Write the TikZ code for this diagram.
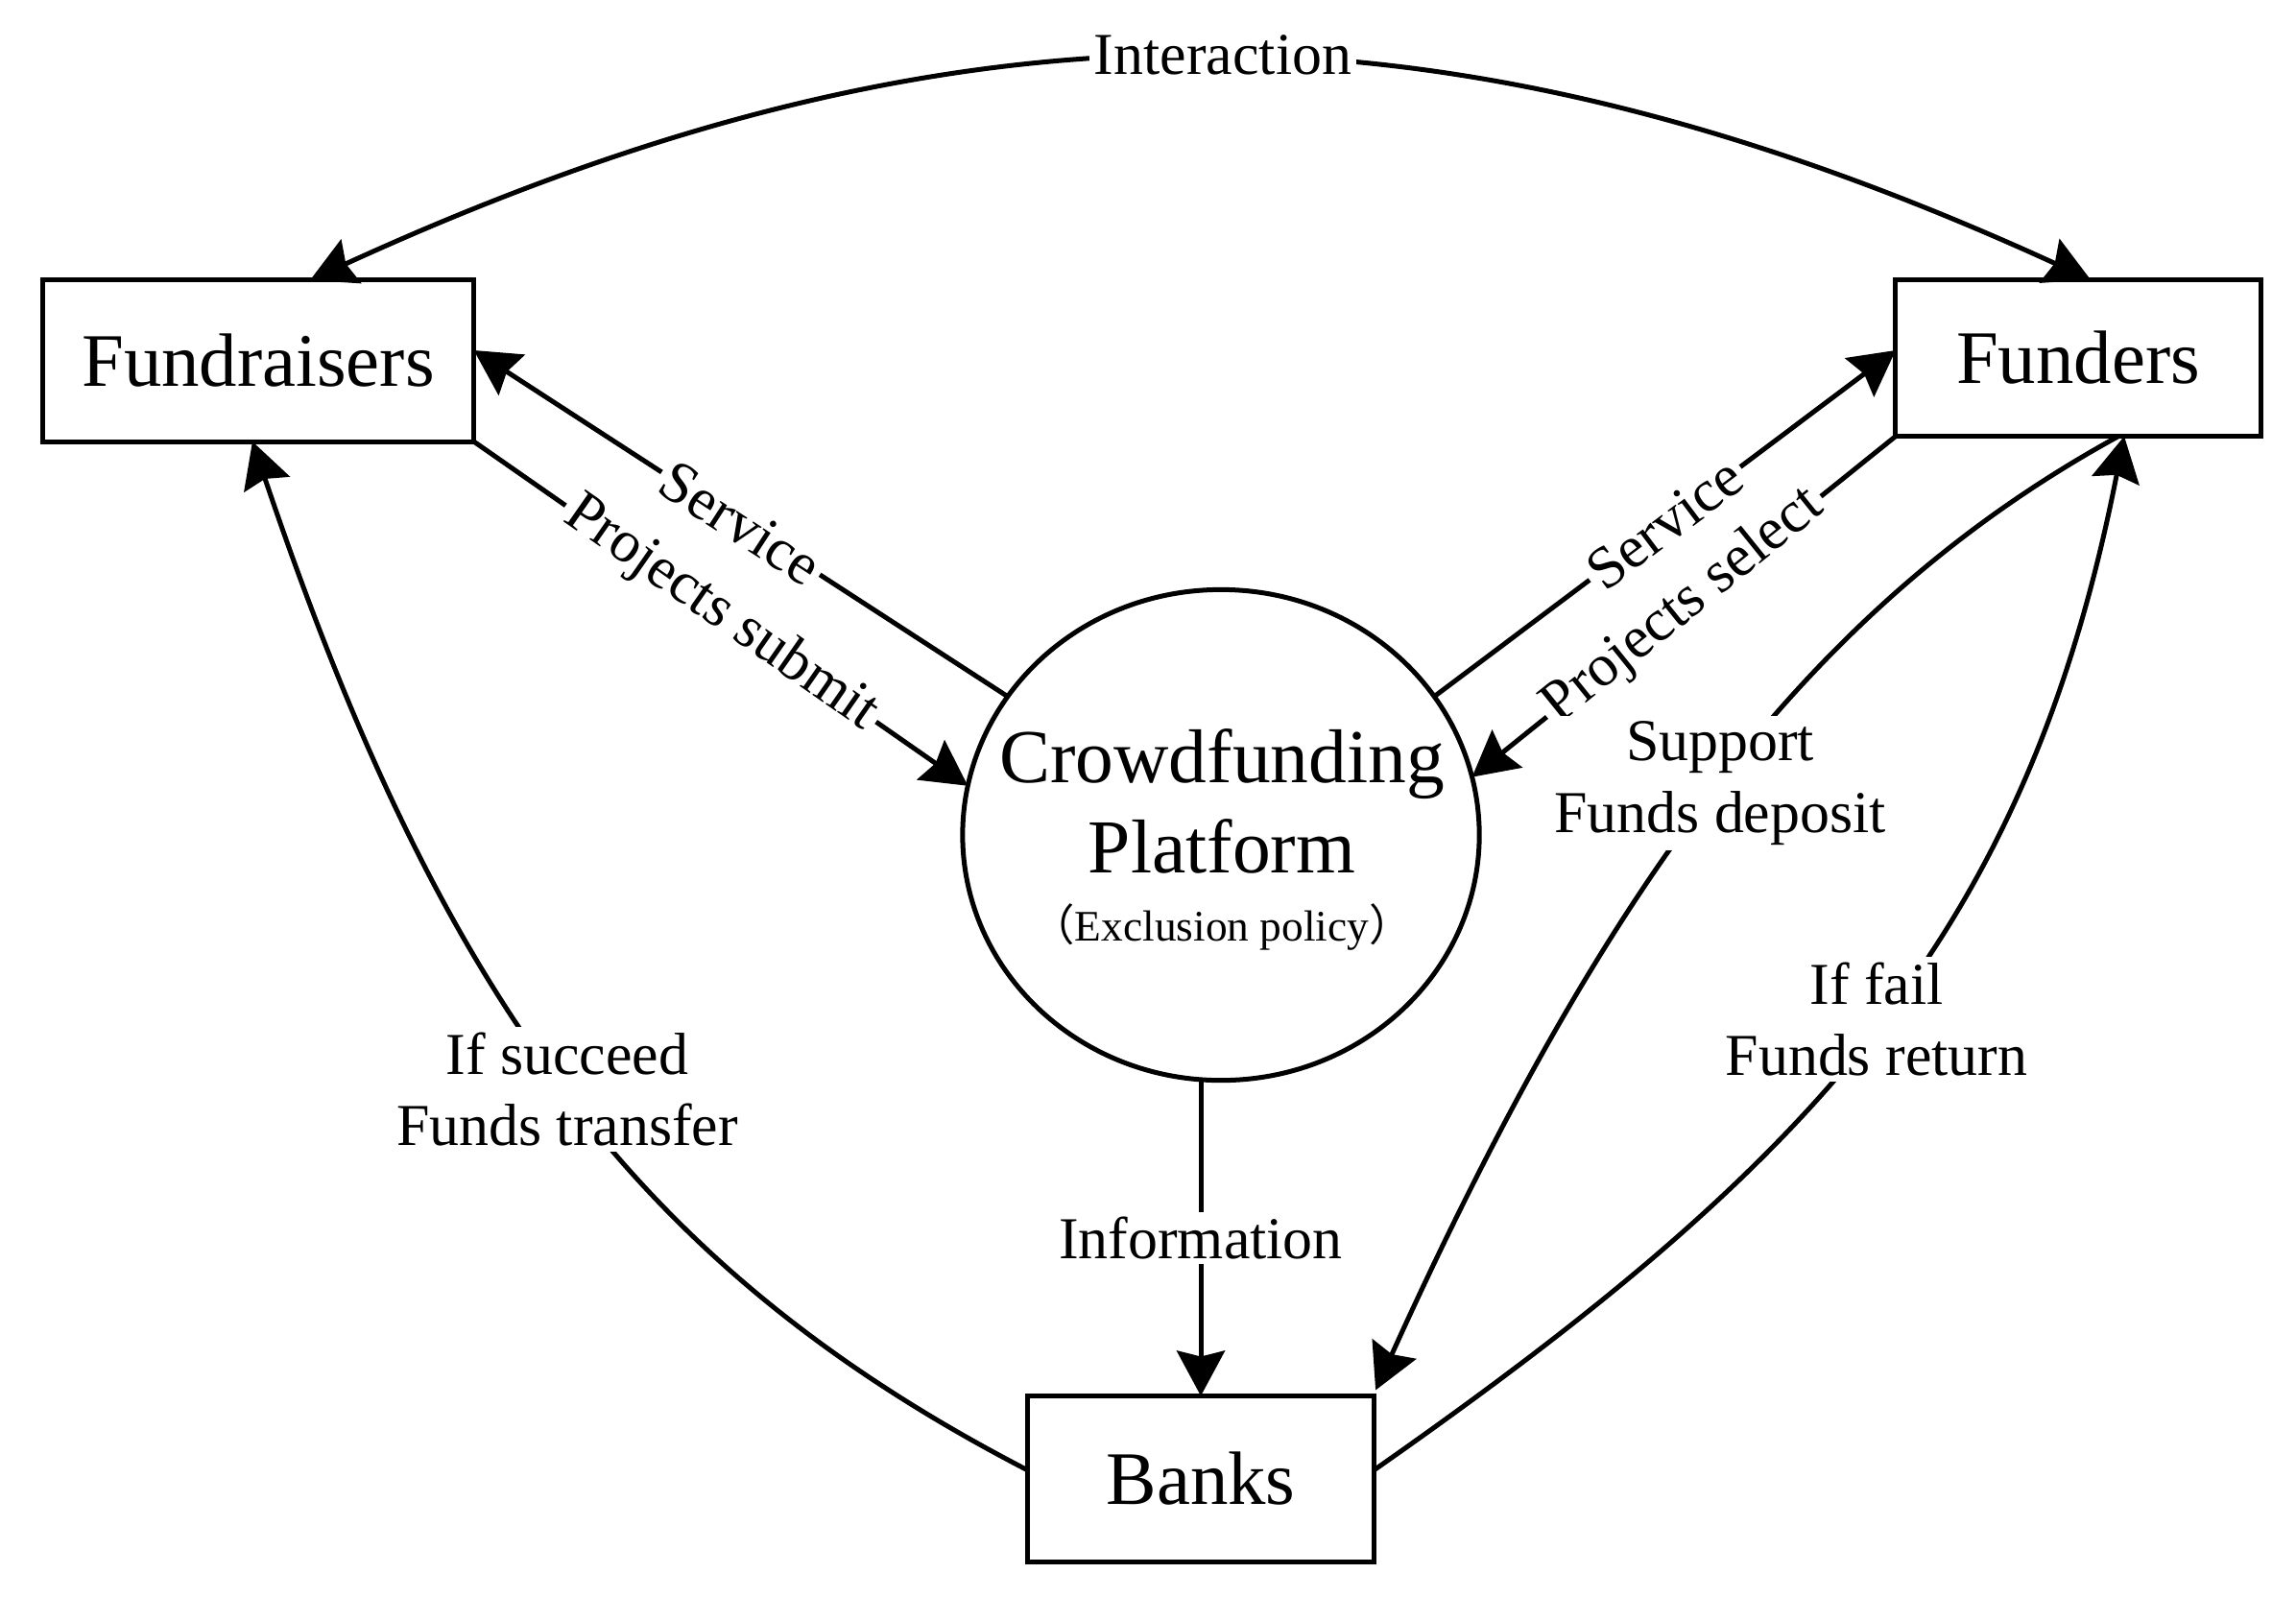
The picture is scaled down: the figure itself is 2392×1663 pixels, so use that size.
\documentclass[tikz,border=0pt]{standalone}
\usepackage{fontspec}
\setmainfont{Liberation Serif}
\newfontfamily\cjk{Noto Sans CJK SC}
\usetikzlibrary{arrows.meta,calc,shapes.geometric}
\begin{document}
\begin{tikzpicture}[x=0.01cm,y=-0.01cm,
  every node/.style={outer sep=0pt},
  >={Stealth[length=0.47cm,width=0.5cm,inset=0.06cm]},
  box/.style={draw, line width=0.05cm, rectangle, inner sep=0pt, font=\fontsize{22.4pt}{26pt}\selectfont},
  lbl/.style={font=\fontsize{17.6pt}{21.3pt}\selectfont, inner sep=1.5pt},
  wl/.style={lbl, fill=white},
  conn/.style={line width=0.05cm},
  arr/.style={conn, ->},
  darr/.style={conn, <->},
]
\useasboundingbox (0,0) rectangle (2392,1663);
\fill[white] (0,0) rectangle (2392,1663);

% nodes
\node[box, minimum width=4.49cm, minimum height=1.68cm] (fr) at (269,376) {Fundraisers};
\node[box, minimum width=3.80cm, minimum height=1.63cm] (fd) at (2165,373) {Funders};
\node[box, minimum width=3.60cm, minimum height=1.73cm] (bk) at (1251,1541) {Banks};
\node[draw, ellipse, line width=0.05cm, minimum width=5.38cm, minimum height=5.11cm, inner sep=0pt] (cp) at (1272,870) {};
\node[align=center, inner sep=0pt, font=\fontsize{22.6pt}{26.7pt}\selectfont] (cpt) at (1273,875)
  {Crowdfunding\\Platform\\[-6.5pt]{\fontsize{12.9pt}{15pt}\selectfont{\cjk （}Exclusion policy{\cjk ）}}};

% interaction
\draw[darr] ($(fr.north)+(54,0)$) .. controls (995,-16) and (1506,-16) .. ($(fd.north)+(13,0)$);
\node[wl] (lint) at (1274,57) {Interaction};

% platform <-> fundraisers
\draw[arr] (cp.147) -- node[wl, sloped] (lsl) {Service} ($(fr.east)+(0,-11)$);
\draw[arr] (fr.south east) -- node[wl, sloped] (lps) {Projects submit} (cp.169);

% platform <-> funders
\draw[arr] (cp.33) -- node[wl, sloped] (lsr) {Service} ($(fd.west)+(0,-8)$);
\draw[arr] (fd.south west) -- node[wl, sloped] (lpsel) {Projects select} (cp.13);

% information
\draw[arr] (bk.north |- cp.south) -- node[wl] (linf) {Information} (bk.north);

% if succeed
\draw[arr] ($(bk.west)+(0,-9)$) .. controls (671,1325) and (462,1049) .. ($(fr.south)+(-6,0)$);
\node[wl, align=center] (lsuc) at (591,1135) {If succeed\\Funds transfer};

% if fail
\draw[arr] ($(bk.east)+(0,-9)$) .. controls (1887,1213) and (2111,975) .. ($(fd.south)+(48,0)$);
\node[wl, align=center] (lfail) at (1955,1062) {If fail\\Funds return};

% support
\draw[arr] ($(fd.south)+(42,0)$) .. controls (1896,625) and (1680,903) .. ($(bk.north east)+(2,-6)$);
\node[wl, align=center] (lsup) at (1792,816) {Support\\Funds deposit};
\end{tikzpicture}
\end{document}
